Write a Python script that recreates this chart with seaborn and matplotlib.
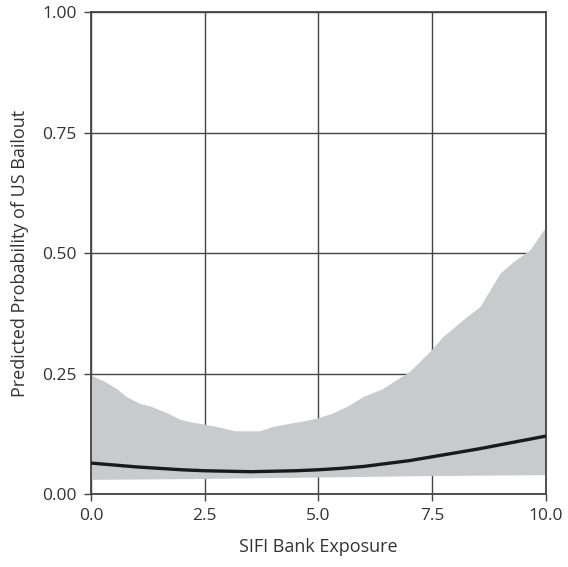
import numpy as np
import pandas as pd
import matplotlib
matplotlib.use("Agg")
import matplotlib.pyplot as plt
import seaborn as sns

# predicted probability (central line)
exposure = [0.0, 0.5, 1.0, 1.5, 2.0, 2.5, 3.0, 3.5, 4.0, 4.5, 5.0,
            5.5, 6.0, 6.5, 7.0, 7.5, 8.0, 8.5, 9.0, 9.5, 10.0]
predicted = [0.064, 0.060, 0.056, 0.053, 0.050, 0.048, 0.047, 0.046, 0.047, 0.048, 0.050,
             0.053, 0.057, 0.063, 0.069, 0.077, 0.085, 0.093, 0.102, 0.111, 0.120]

# confidence band, upper edge
upper_x = [0.0, 0.31, 0.56, 0.78, 1.07, 1.29, 1.66, 1.96, 2.17, 2.48, 2.76, 3.16,
           3.71, 4.0, 4.44, 4.59, 4.95, 5.32, 5.69, 5.98, 6.42, 6.71, 7.0, 7.45,
           7.74, 8.26, 8.55, 8.99, 9.28, 9.65, 10.0]
upper_y = [0.247, 0.233, 0.219, 0.202, 0.188, 0.183, 0.169, 0.155, 0.150, 0.145, 0.140, 0.131,
           0.131, 0.140, 0.148, 0.150, 0.157, 0.168, 0.185, 0.202, 0.219, 0.237, 0.254, 0.296,
           0.327, 0.368, 0.389, 0.458, 0.482, 0.507, 0.555]

# confidence band, lower edge
lower_x = [0.0, 2.5, 5.0, 7.5, 10.0]
lower_y = [0.030, 0.032, 0.035, 0.038, 0.040]

sns.set_style("white")
plt.rcParams["font.family"] = ["Open Sans", "DejaVu Sans"]

fig = plt.figure(figsize=(5.68, 5.67), dpi=100)
ax = fig.add_axes([0.160, 0.129, 0.801, 0.849])

# band on a common grid
grid_x = np.union1d(upper_x, lower_x)
band_hi = np.interp(grid_x, upper_x, upper_y)
band_lo = np.interp(grid_x, lower_x, lower_y)
ax.fill_between(grid_x, band_lo, band_hi, color="#c9cacc", linewidth=0, zorder=2)

df = pd.DataFrame({"SIFI Bank Exposure": exposure, "prob": predicted})
sns.lineplot(data=df, x="SIFI Bank Exposure", y="prob", ax=ax,
             color="#1a1a1a", linewidth=2.4, zorder=3)

ax.set_xlim(0, 10)
ax.set_ylim(0, 1)
ax.set_xticks([0, 2.5, 5, 7.5, 10])
ax.set_yticks([0, 0.25, 0.5, 0.75, 1.0])
ax.set_xticklabels(["0.0", "2.5", "5.0", "7.5", "10.0"])
ax.set_yticklabels(["0.00", "0.25", "0.50", "0.75", "1.00"])

ax.grid(True, color="#444444", linewidth=1.0, zorder=1)
ax.set_axisbelow(True)
for s in ax.spines.values():
    s.set_color("#444444")
    s.set_linewidth(1.3)
    s.set_visible(True)

ax.tick_params(axis="both", direction="out", length=5, width=1.0, color="#444444",
               labelsize=12.5, labelcolor="#333333", bottom=True, left=True, pad=5)
ax.set_xlabel("SIFI Bank Exposure", fontsize=13, color="#333333", labelpad=10)
ax.set_ylabel("Predicted Probability of US Bailout", fontsize=13, color="#333333", labelpad=10)

fig.savefig("out.png", dpi=100)
